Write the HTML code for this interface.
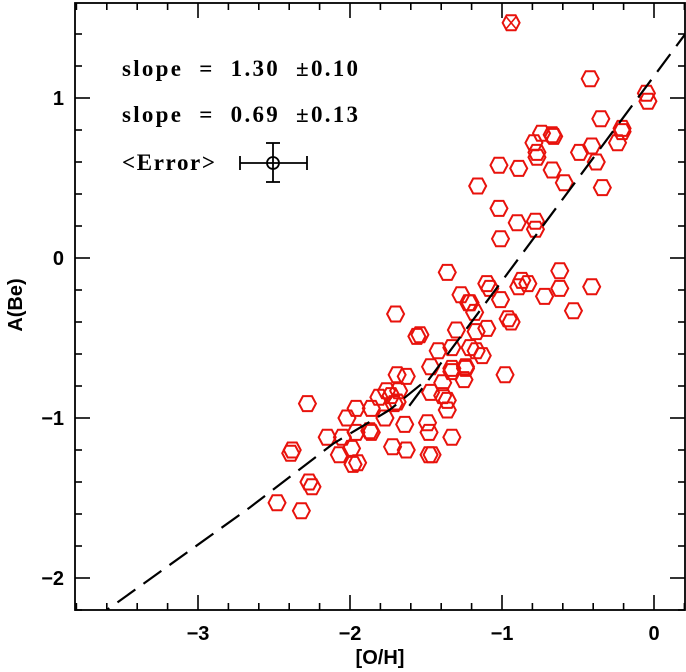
<!DOCTYPE html>
<html><head><meta charset="utf-8"><style>
html,body{margin:0;padding:0;background:#fff;}
svg{display:block;font-family:"Liberation Sans",sans-serif;}
.ann{white-space:pre;}
</style></head><body>
<svg id="chart" width="686" height="672" viewBox="0 0 686 672" xmlns="http://www.w3.org/2000/svg">
<rect x="0" y="0" width="686" height="672" fill="#fff"/>
<g id="plot"></g>
<g id="axes"></g>
<g font-family="Liberation Serif, serif" font-size="23" font-weight="bold" fill="#000">
<text class="ann" x="122" y="76" textLength="236" lengthAdjust="spacing">slope  =  1.30  ±0.10</text>
<text class="ann" x="122" y="122" textLength="236" lengthAdjust="spacing">slope  =  0.69  ±0.13</text>
<text class="ann" x="122" y="170" textLength="93" lengthAdjust="spacing">&lt;Error&gt;</text>
</g>
<g stroke="#000" stroke-width="1.8" fill="none">
<line x1="240" y1="163" x2="307" y2="163"/><line x1="240" y1="156" x2="240" y2="170"/><line x1="307" y1="156" x2="307" y2="170"/>
<line x1="273" y1="143" x2="273" y2="182"/><line x1="266" y1="143" x2="280" y2="143"/><line x1="266" y1="182" x2="280" y2="182"/>
<circle cx="273" cy="163" r="6"/>
</g>
<text x="380" y="664" text-anchor="middle" font-size="20" font-weight="bold">[O/H]</text>
<text transform="translate(22,305) rotate(-90)" text-anchor="middle" font-size="20" font-weight="bold">A(Be)</text>
</svg>
<script>
const xVals=[-2.48,-2.32,-2.27,-2.25,-2.38,-2.39,-2.28,-2.15,-2.05,-2.07,-1.99,-1.95,-1.98,-2.02,-1.96,-1.96,-1.87,-1.86,-1.77,-1.81,-1.73,-1.69,-1.72,-1.63,-1.64,-1.49,-1.48,-1.48,-1.86,-1.69,-1.63,-1.76,-1.68,-1.71,-1.39,-1.39,-1.36,-1.36,-1.33,-1.46,-1.25,-1.33,-1.36,-1.70,-1.56,-1.54,-1.27,-1.21,-1.10,-1.08,-1.01,-1.18,-1.30,-1.17,-1.10,-0.96,-0.94,-1.42,-1.33,-1.21,-1.17,-1.13,-0.98,-1.47,-1.33,-1.24,-1.47,-0.87,-0.89,-0.83,-1.22,-0.42,-0.35,-0.21,-0.21,-0.24,-0.05,-0.04,-0.74,-0.67,-0.66,-0.79,-0.77,-0.77,-0.49,-0.41,-0.38,-0.67,-0.59,-0.34,-1.02,-0.89,-1.16,-1.02,-0.90,-0.78,-0.78,-1.01,-0.62,-0.62,-0.41,-0.72,-0.53,-1.24];
const yVals=[-1.53,-1.58,-1.40,-1.43,-1.20,-1.22,-0.91,-1.12,-1.12,-1.23,-1.19,-1.28,-1.29,-1.00,-0.94,-1.09,-1.08,-0.94,-1.00,-0.87,-0.86,-0.90,-1.18,-1.20,-1.04,-1.03,-1.09,-1.23,-1.09,-0.73,-0.74,-0.83,-0.83,-0.91,-0.78,-0.86,-0.89,-0.95,-1.12,-1.23,-0.76,-0.71,-0.09,-0.35,-0.49,-0.48,-0.23,-0.28,-0.16,-0.19,-0.26,-0.34,-0.45,-0.46,-0.44,-0.38,-0.40,-0.58,-0.56,-0.56,-0.58,-0.61,-0.73,-0.68,-0.69,-0.69,-0.84,-0.14,-0.18,-0.16,-0.28,1.12,0.87,0.81,0.79,0.72,1.03,0.98,0.78,0.77,0.76,0.72,0.66,0.63,0.66,0.70,0.60,0.55,0.47,0.44,0.58,0.56,0.45,0.31,0.22,0.23,0.18,0.12,-0.08,-0.19,-0.18,-0.24,-0.33,-0.68];
const specialX=[-0.94];
const specialY=[1.47];
const curveX=[-3.70,-3.60,-2.66,-2.11,-1.74,-1.52];
const curveY=[-2.27,-2.20,-1.56,-1.16,-0.95,-0.78];
const lineX=[-1.61,0.21];
const lineSlope=1.28, lineX0=0.19, lineY0=1.38;
const xTicks=[-3,-2,-1,0];
const yTicks=[-2,-1,0,1];
const xTickLabels=["\u22123","\u22122","\u22121","0"];
const yTickLabels=["\u22122","\u22121","0","1"];

const L=75,R=685,T=3,B=610;
const sx=v=>654+152*v;
const sy=v=>258-160*v;
const NS="http://www.w3.org/2000/svg";
function mk(tag,attrs,parent){const e=document.createElementNS(NS,tag);for(const k in attrs)e.setAttribute(k,attrs[k]);parent.appendChild(e);return e;}
const plot=document.getElementById('plot');
const axes=document.getElementById('axes');
const clip=mk('clipPath',{id:'cp'},plot);
mk('rect',{x:L,y:T,width:R-L,height:B-T},clip);
const pg=mk('g',{'clip-path':'url(#cp)'},plot);
function hex(cx,cy){const a=8.5,b=4.5,h=7.5;return `${cx-a},${cy} ${cx-b},${cy-h} ${cx+b},${cy-h} ${cx+a},${cy} ${cx+b},${cy+h} ${cx-b},${cy+h}`;}
for(let i=0;i<xVals.length;i++){
 const p=mk('polygon',{points:hex(sx(xVals[i]),sy(yVals[i])),fill:'none',stroke:'#e8120c','stroke-width':2},pg);
 
 
}
for(let i=0;i<specialX.length;i++){
 const cx=sx(specialX[i]),cy=sy(specialY[i]);
 const g=mk('g',{},pg);
 
 
 mk('polygon',{points:hex(cx,cy),fill:'none',stroke:'#e8120c','stroke-width':2},g);
 mk('line',{x1:cx-5,y1:cy-6,x2:cx+5,y2:cy+6,stroke:'#e8120c','stroke-width':1.6},g);
 mk('line',{x1:cx-5,y1:cy+6,x2:cx+5,y2:cy-6,stroke:'#e8120c','stroke-width':1.6},g);
}
let d='';curveX.forEach((v,i)=>{d+=(i?'L':'M')+sx(v)+','+sy(curveY[i]);});
const c=mk('path',{d:d,fill:'none',stroke:'#000','stroke-width':2.2,'stroke-dasharray':'22 10'},pg);


const ly=v=>lineY0+lineSlope*(v-lineX0);
const ln=mk('line',{x1:sx(lineX[0]),y1:sy(ly(lineX[0])),x2:sx(lineX[1]),y2:sy(ly(lineX[1])),stroke:'#000','stroke-width':2.2,'stroke-dasharray':'22 10'},pg);


const fr=mk('rect',{x:L,y:T,width:R-L,height:B-T,fill:'none',stroke:'#000','stroke-width':1.8},axes);


for(let k=-19;k<=1;k++){const v=k*0.2;const x=sx(v);if(x<L||x>R)continue;const major=Math.abs(v-Math.round(v))<1e-6;const len=major?15:7;
 mk('line',{x1:x,y1:B,x2:x,y2:B-len,stroke:'#000','stroke-width':1.6},axes);
 mk('line',{x1:x,y1:T,x2:x,y2:T+len,stroke:'#000','stroke-width':1.6},axes);}
for(let k=-11;k<=8;k++){const v=k*0.2;const y=sy(v);if(y<T||y>B)continue;const major=Math.abs(v-Math.round(v))<1e-6;const len=major?15:7;
 mk('line',{x1:L,y1:y,x2:L+len,y2:y,stroke:'#000','stroke-width':1.6},axes);
 mk('line',{x1:R,y1:y,x2:R-len,y2:y,stroke:'#000','stroke-width':1.6},axes);}
xTicks.forEach((v,i)=>{const t=mk('text',{x:sx(v),y:640,'text-anchor':'middle','font-size':20,'font-weight':'bold'},axes);t.textContent=xTickLabels[i];
 
 });
yTicks.forEach((v,i)=>{const t=mk('text',{x:64,y:sy(v)+7,'text-anchor':'end','font-size':20,'font-weight':'bold'},axes);t.textContent=yTickLabels[i];
 
 });
</script>
</body></html>
